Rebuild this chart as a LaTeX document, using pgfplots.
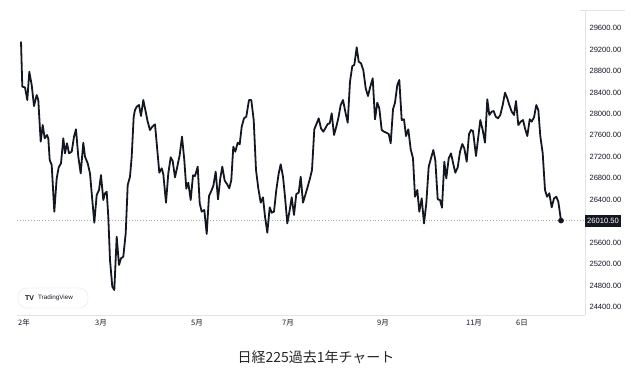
\documentclass[border=0pt]{standalone}
\usepackage{pgfplots}
\usepackage{pgfplotstable}
\pgfplotsset{compat=1.18}
\usepackage{fontspec}
\setmainfont{Liberation Sans}
\newfontfamily\jp{Noto Sans CJK JP}
\definecolor{tvline}{HTML}{131722}
\definecolor{tvgrid}{HTML}{E0E3EB}
\definecolor{tvtext}{HTML}{131722}

\pgfplotstableread{
x v
21 29346
22.3 28507
25 28494
27.3 28258
29.3 28786
31.7 28538
34 28146
36.7 28351
38.3 28258
40.7 27482
42.7 27792
44.7 27544
47 27606
48.3 27544
49.7 27140
51.7 27047
54.3 26177
56.7 26798
58.7 27003
61 27078
63.3 27544
65 27264
67 27451
69 27264
71.7 27295
74 27575
76 27712
78.3 27202
80.7 26891
83.3 27463
85 27202
87.7 27078
90 26891
92 26456
94.3 25972
96.7 26488
99 26581
101 26860
103.3 26394
105 26519
106.7 26550
108.3 26084
110 25276
112.3 24779
114.3 24717
116.7 25711
119 25183
121 25307
123.3 25338
125.7 25773
127.7 26674
130 26829
131.7 27202
133.7 27948
135 28072
136.7 28134
139 28165
141 27960
143.3 28258
145 28103
147.7 27854
150 27699
152.3 27761
155 27805
157.3 27326
159.3 26904
161.7 26985
163.3 26879
166 26345
168.3 26891
170.7 27190
172.7 27121
175 26817
177.3 27016
179.7 27233
182 27575
184.3 27140
186.3 26606
188.3 26717
190.7 26394
193 26854
195 26842
197.7 27016
199.7 26332
201.7 26177
204.3 26208
206.7 25761
209 26469
211 26550
213.3 26655
215.7 26922
218 26407
220.3 26798
222.3 27016
224.7 26755
227 26693
229.3 26612
231.3 26767
233.3 27388
235.3 27295
237.7 27463
239.7 27432
241.7 27761
244 27917
246.3 27948
249 28258
251.3 28258
253.7 27885
256 26954
258.3 26612
260.7 26345
263 26444
265 26084
267.3 25785
269.7 26258
271.7 26158
274 26177
276.3 26581
278.7 26891
280.7 27059
283 26829
285 26456
287.3 25959
289.7 26208
291.7 26444
294 26115
296.3 26506
298.7 26531
300.7 26829
303 26345
305.3 26488
307.7 26643
310 26798
312 26954
314.3 27712
316.7 27823
318.7 27917
321 27730
323.3 27668
325.3 27730
327.7 27811
329.7 27823
331.7 28010
334 27606
336.3 27761
338.3 27917
340.7 28165
343 28258
345.3 28041
347.7 27836
350 28600
352.3 28892
354.3 28911
356.7 29240
358.7 28973
361 28942
363.3 28817
365.7 28476
368 28333
370.3 28507
372.7 28662
375 27898
377.3 28209
379.3 28103
381.7 27699
384 27668
386.3 27649
388.7 27625
390.7 27451
393 28084
395 28209
397.3 28538
399.3 28631
401.7 27885
404 27898
406 27587
408.3 27712
410.7 27339
413 27171
415 26456
417.3 26581
419.3 26177
421.7 26425
424 25959
426.3 26332
428.7 27016
430.7 27152
433.3 27326
435.3 27140
437.7 26407
440 26394
442 26251
444.3 27109
446.3 26798
448.7 27171
451 27264
453.3 27065
455.3 26904
457.7 27003
460 27295
462.3 27438
464.3 27357
466.7 27109
469 27620
471 27699
473 27680
476 27214
478.3 27575
480.3 27885
482.7 27699
485 27463
487.3 28271
489.3 27979
491.7 28041
493.7 28053
495.7 27948
498 27917
500.3 27979
502.7 28165
505 28395
507.3 28289
509.3 28165
511.7 28041
514 27979
516 28240
518.3 27792
520.7 27854
523 27885
525 27730
527.3 27587
529.7 27898
531.7 27854
534 27935
536.3 28165
538.3 28072
540.3 27587
542.7 27264
545 26581
547 26456
549.3 26519
551.7 26258
554 26425
556.3 26456
558.3 26363
561 26010.5
}\nikkei

\begin{document}
\begin{tikzpicture}
\begin{axis}[
  at={(17pt,59pt)}, anchor=south west,
  scale only axis, width=568pt, height=305pt,
  xmin=17, xmax=585, ymin=24251, ymax=29936,
  clip=false,
  axis x line*=bottom, axis y line*=right,
  axis line style={draw=tvgrid, line width=0.8pt},
  major tick length=0pt,
  scaled y ticks=false,
  xtick={24,101,197,288,383,474,522},
  xticklabels={2年,3月,5月,7月,9月,11月,6日},
  xticklabel style={font=\jp\fontsize{7.5}{9}\selectfont, text=tvtext, yshift=-1pt},
  ytick={24400,24800,25200,25600,26400,26800,27200,27600,28000,28400,28800,29200,29600},
  yticklabel pos=right,
  yticklabel style={font=\fontsize{7.6}{9}\selectfont, text=tvtext, anchor=west, xshift=1pt,
    /pgf/number format/.cd, fixed, fixed zerofill, precision=2, 1000 sep={}, assume math mode=true},
]
\addplot[draw=gray!70, dotted, line width=0.8pt] coordinates {(17,26010.5) (585,26010.5)};
\addplot[draw=tvline, line width=1.8pt, line join=round] table[x=x, y=v] {\nikkei};
\addplot[only marks, mark=*, mark size=2.6pt, color=tvline] coordinates {(561,26010.5)};
\node[anchor=west, fill=tvline, text=white, font=\fontsize{7.6}{9}\selectfont, inner xsep=2pt, minimum height=12pt] at (axis cs:585,26010.5) {26010.50};
\end{axis}
% price axis top border
\draw[tvgrid, line width=0.8pt] (580pt,364pt) -- (625pt,364pt);
% TradingView badge
\node[draw=gray!12, line width=0.8pt, rounded corners=9pt, minimum width=70pt, minimum height=20pt, inner sep=0pt] at (53pt,76pt) {};
\node[font=\bfseries\fontsize{7}{8}\selectfont, text=tvline, anchor=west, inner sep=0pt] at (25pt,76pt) {TV};
\node[font=\fontsize{6.3}{8}\selectfont, text=tvline, anchor=west, inner sep=0pt] at (38pt,76pt) {TradingView};
% title
\node[font=\jp\fontsize{14}{16}\selectfont, text=black!85] at (316pt,17pt) {日経225過去1年チャート};
\pgfresetboundingbox
\path[use as bounding box] (0,0) rectangle (631pt,374pt);
\end{tikzpicture}
\end{document}
